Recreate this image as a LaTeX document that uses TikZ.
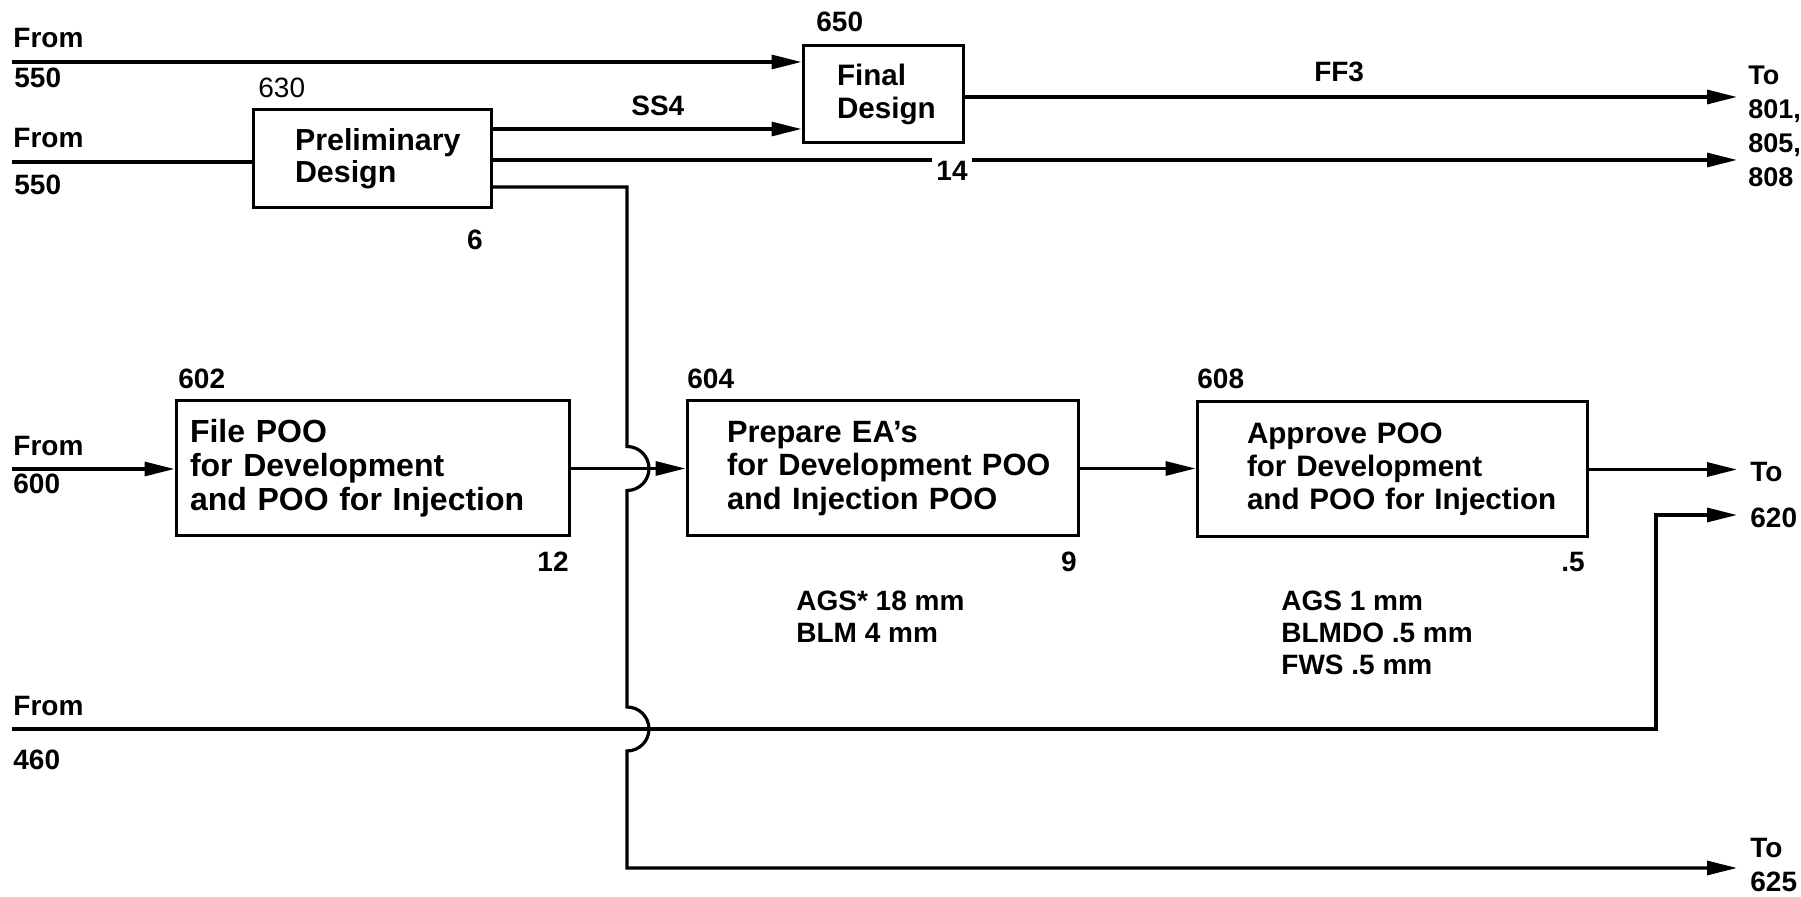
\documentclass[tikz,border=0pt]{standalone}
\usepackage{fontspec}
\setmainfont{Liberation Sans}
\usetikzlibrary{arrows.meta, calc}

\begin{document}
\begin{tikzpicture}[x=0.5pt, y=-0.5pt,
    every node/.style={font=\fontsize{14}{16}\selectfont\bfseries, inner sep=0pt},
    task/.style={draw, line width=1.5pt, align=left, inner xsep=2pt,
                 font=\fontsize{14.8}{16.4}\selectfont\bfseries},
    tpad/.style={execute at begin node={\leftskip=#1}},
    num/.style={anchor=base west},
    dur/.style={anchor=base east},
    note/.style={anchor=north west, align=left},
    line/.style={line width=1.6pt},
    arr/.style={line, -{Triangle[length=15pt, width=7pt]}},
  ]
  \useasboundingbox (0,0) rectangle (1801,897);

  % Activity boxes
  \node[task, tpad=19pt, text width=115pt, minimum height=49pt,
        font=\fontsize{15.2}{16}\selectfont\bfseries] (prelim) at (372,159) {Preliminary\\Design};
  \node[task, tpad=15pt, text width=76pt, minimum height=48.5pt] (final) at (883,94.5) {Final\\Design};
  \node[task, tpad=5pt, text width=192.5pt, minimum height=67.5pt,
        font=\fontsize{16}{17}\selectfont\bfseries] (fileb) at (372.5,468.5) {File POO\\for Development\\and POO for Injection};
  \node[task, tpad=18pt, text width=191.5pt, minimum height=67.5pt,
        font=\fontsize{15.4}{16.6}\selectfont\bfseries] (prep) at (882.5,468.5) {Prepare EA’s\\for Development POO\\and Injection POO};
  \node[task, tpad=23pt, text width=191pt, minimum height=67.5pt] (appr) at (1392,469.5) {Approve POO\\for Development\\and POO for Injection};

  % Activity numbers and durations
  \node[num] (n650) at (816,32) {650};
  \node[num, font=\fontsize{14}{16}\selectfont] (n630) at (258,98) {630};
  \node[num] (n602) at (178,389) {602};
  \node[num] (n604) at (687,389) {604};
  \node[num] (n608) at (1197,389) {608};
  \node[dur] (d630) at (483,250) {6};
  \node[dur] (d602) at (569,572) {12};
  \node[dur] (d604) at (1077,572) {9};
  \node[dur] (d608) at (1585,572) {.5};

  % Ends of the flows
  \coordinate (in550a) at (12,62);
  \coordinate (in550b) at (12,162);
  \coordinate (in600) at (12,469);
  \coordinate (in460) at (12,729);
  \coordinate (to801a) at (1737,97);
  \coordinate (to801b) at (1737,160);
  \coordinate (to620a) at (1737,469.5);
  \coordinate (to620b) at (1737,515);
  \coordinate (up620) at (1656,515);
  \coordinate (jog) at (627,187);
  \coordinate (to625) at (1737,868);

  \node[num] (f550a) at (13,48) {From};
  \node[num] (s550a) at (14,88) {550};
  \node[num] (f550b) at (13,148) {From};
  \node[num] (s550b) at (14,195) {550};
  \node[num] (f600) at (13,456) {From};
  \node[num] (s600) at (13,494) {600};
  \node[num] (f460) at (13,716) {From};
  \node[num] (s460) at (13,770) {460};

  \node[note, font=\fontsize{13.5}{17}\selectfont\bfseries] (t801) at (1748,66) {To\\801,\\805,\\808};
  \node[note, font=\fontsize{14}{23}\selectfont\bfseries] (t620) at (1750,462) {To\\620};
  \node[note, font=\fontsize{14}{17}\selectfont\bfseries] (t625) at (1750,838) {To\\625};

  % Flows
  \draw[arr] (in550a) -- (final.west |- in550a);
  \draw[line] (in550b) -- (prelim.west |- in550b);
  \draw[arr] (prelim.east |- 0,129) -- node[pos=0.535, above=6pt] (ss4) {SS4} (final.west |- 0,129);
  \draw[arr] (final.east |- to801a) -- node[pos=0.485, above=7pt] (ff3) {FF3} (to801a);
  \draw[arr] (prelim.east |- to801b) -- (to801b);
  \draw[arr] (in600) -- (fileb.west |- in600);
  \draw[arr] (fileb) -- (prep);
  \draw[arr] (prep.east) -- (appr.west |- prep.east);
  \draw[arr] (appr.east) -- (to620a);
  \draw[arr] (in460) -| (up620) -- (to620b);
  \draw[arr] (prelim.east |- jog) -- (jog)
    -- ($(jog |- fileb)+(0,-22)$) arc[start angle=90, end angle=-90, radius=11pt]
    -- ($(jog |- in460)+(0,-22)$) arc[start angle=90, end angle=-90, radius=11pt]
    -- (jog |- to625) -- (to625);

  \node[fill=white, inner sep=2pt] (d650) at (952,171) {14};

  % Resource notes
  \node[note] (r604) at (796,591) {AGS* 18 mm\\BLM 4 mm};
  \node[note] (r608) at (1281,591) {AGS 1 mm\\BLMDO .5 mm\\FWS .5 mm};
\end{tikzpicture}
\end{document}
